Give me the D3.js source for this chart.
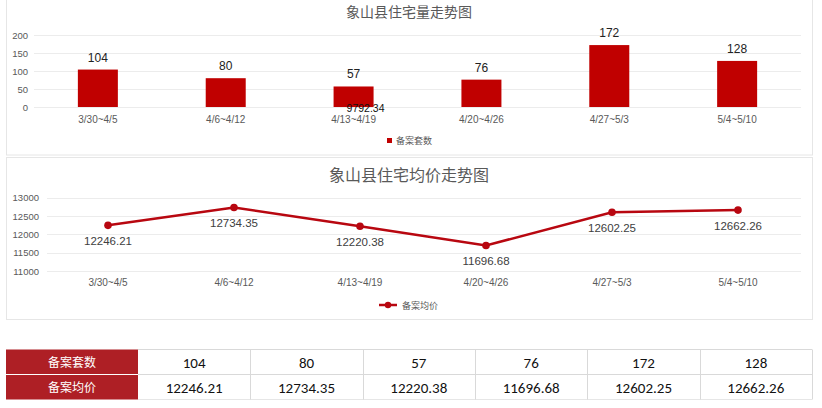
<!DOCTYPE html>
<html><head><meta charset="utf-8">
<script src="https://cdn.jsdelivr.net/npm/d3@7"></script>
<style>body{margin:0;background:#fff;}svg{display:block;font-family:"Microsoft YaHei","Noto Sans CJK SC",sans-serif;}</style>
</head><body><svg id="c" width="822" height="408"></svg>
<script>
const categories = ["3/30~4/5","4/6~4/12","4/13~4/19","4/20~4/26","4/27~5/3","5/4~5/10"];
const counts = [104, 80, 57, 76, 172, 128];
const prices = [12246.21, 12734.35, 12220.38, 11696.68, 12602.25, 12662.26];
const countTicks = [0, 50, 100, 150, 200];
const priceTicks = [11000, 11500, 12000, 12500, 13000];
const countName = "备案套数", priceName = "备案均价";
const title1 = "象山县住宅量走势图", title2 = "象山县住宅均价走势图";
const strayLabel = "9792.34";

const svg = d3.select("#c");
const red = "#C00000", lineRed = "#B80710", tableRed = "#AE1F25";
const fontLat = "Arial, 'Liberation Sans', sans-serif";

// panel borders
svg.append("rect").attr("x",6.5).attr("y",-1).attr("width",806).attr("height",156).attr("fill","none").attr("stroke","#e6e6e6");
svg.append("rect").attr("x",6.5).attr("y",157.5).attr("width",806).attr("height",162).attr("fill","none").attr("stroke","#e6e6e6");

// ---- Bar chart ----
const x1 = d3.scaleBand().domain(categories).range([34, 801]).paddingInner(0.687).paddingOuter(0.343);
const y1 = d3.scaleLinear().domain([0, 200]).range([107, 35]);
svg.append("text").attr("x",409).attr("y",17).attr("text-anchor","middle").attr("font-size",14).attr("fill","#595959").text(title1);
const g1 = svg.append("g");
g1.selectAll("line.g").data(countTicks).join("line").attr("x1",34).attr("x2",801)
  .attr("y1",d=>Math.round(y1(d))+0.5).attr("y2",d=>Math.round(y1(d))+0.5).attr("stroke","#ececec");
g1.selectAll("text.t").data(countTicks).join("text").attr("x",28).attr("y",d=>y1(d)+3.5).attr("text-anchor","end")
  .attr("font-size",9.5).attr("font-family",fontLat).attr("fill","#595959").text(d=>d);
const bw = 40;
g1.selectAll("rect.b").data(counts).join("rect")
  .attr("x",(d,i)=>x1(categories[i])+x1.bandwidth()/2-bw/2).attr("width",bw)
  .attr("y",d=>y1(d)).attr("height",d=>y1(0)-y1(d)).attr("fill",red);
g1.selectAll("text.v").data(counts).join("text")
  .attr("x",(d,i)=>x1(categories[i])+x1.bandwidth()/2).attr("y",d=>y1(d)-8)
  .attr("text-anchor","middle").attr("font-size",12).attr("font-family",fontLat).attr("fill","#222").text(d=>d);
g1.selectAll("text.c").data(categories).join("text")
  .attr("x",d=>x1(d)+x1.bandwidth()/2).attr("y",123).attr("text-anchor","middle")
  .attr("font-size",10).attr("font-family",fontLat).attr("fill","#595959").text(d=>d);
svg.append("text").attr("x",x1(categories[2])+x1.bandwidth()/2+12).attr("y",112).attr("text-anchor","middle")
  .attr("font-size",10.5).attr("font-family",fontLat).attr("fill","#111").text(strayLabel);
svg.append("rect").attr("x",387).attr("y",138).attr("width",5).attr("height",5).attr("fill",red);
svg.append("text").attr("x",396).attr("y",144).attr("font-size",9).attr("fill","#595959").text(countName);

// ---- Line chart ----
const x2 = d3.scalePoint().domain(categories).range([108, 738]);
const y2 = d3.scaleLinear().domain([11000, 13000]).range([271, 197.7]);
svg.append("text").attr("x",409).attr("y",181).attr("text-anchor","middle").attr("font-size",16).attr("fill","#595959").text(title2);
const g2 = svg.append("g");
g2.selectAll("line.g").data(priceTicks).join("line").attr("x1",47).attr("x2",801)
  .attr("y1",d=>Math.round(y2(d))+0.5).attr("y2",d=>Math.round(y2(d))+0.5).attr("stroke","#ececec");
g2.selectAll("text.t").data(priceTicks).join("text").attr("x",39).attr("y",d=>y2(d)+3.5).attr("text-anchor","end")
  .attr("font-size",9.5).attr("font-family",fontLat).attr("fill","#595959").text(d=>d);
const line = d3.line().x((d,i)=>x2(categories[i])).y(d=>y2(d));
g2.append("path").datum(prices).attr("d",line).attr("fill","none").attr("stroke",lineRed).attr("stroke-width",2.5);
g2.selectAll("circle").data(prices).join("circle").attr("cx",(d,i)=>x2(categories[i])).attr("cy",d=>y2(d)).attr("r",3.8).attr("fill",lineRed);
g2.selectAll("text.v").data(prices).join("text")
  .attr("x",(d,i)=>x2(categories[i])).attr("y",d=>y2(d)+20).attr("text-anchor","middle")
  .attr("font-size",11.5).attr("font-family",fontLat).attr("fill","#404040").text(d=>d.toFixed(2));
g2.selectAll("text.c").data(categories).join("text")
  .attr("x",d=>x2(d)).attr("y",286).attr("text-anchor","middle")
  .attr("font-size",10).attr("font-family",fontLat).attr("fill","#595959").text(d=>d);
svg.append("line").attr("x1",379).attr("x2",397).attr("y1",305).attr("y2",305).attr("stroke",lineRed).attr("stroke-width",2.5);
svg.append("circle").attr("cx",388).attr("cy",305).attr("r",3.2).attr("fill",lineRed);
svg.append("text").attr("x",402).attr("y",308.5).attr("font-size",9).attr("fill","#595959").text(priceName);

// ---- Table ----
const tx = d3.scaleBand().domain(categories).range([138, 812]);
const rows = [{name:countName, vals:counts.map(String)}, {name:priceName, vals:prices.map(d=>d.toFixed(2))}];
const rowY = [349.5, 374.5], rh = 25;
rows.forEach((r,ri)=>{
  svg.append("rect").attr("x",6).attr("y",rowY[ri]).attr("width",132).attr("height",rh).attr("fill",tableRed);
  svg.append("text").attr("x",72).attr("y",rowY[ri]+17).attr("text-anchor","middle").attr("font-size",12).attr("fill","#fff").text(r.name);
  svg.selectAll(null).data(r.vals).join("text")
    .attr("x",(d,i)=>tx(categories[i])+tx.bandwidth()/2).attr("y",rowY[ri]+18)
    .attr("text-anchor","middle").attr("font-size",15).attr("font-family","Calibri, Carlito, 'Liberation Sans', sans-serif").attr("fill","#111").text(d=>d);
});
svg.append("line").attr("x1",6).attr("x2",138).attr("y1",374.5).attr("y2",374.5).attr("stroke","#fff").attr("stroke-width",1);
svg.append("line").attr("x1",138).attr("x2",812).attr("y1",349.5).attr("y2",349.5).attr("stroke","#d9d9d9");
svg.append("line").attr("x1",138).attr("x2",812).attr("y1",374.5).attr("y2",374.5).attr("stroke","#d9d9d9");
svg.append("line").attr("x1",138).attr("x2",812).attr("y1",399.5).attr("y2",399.5).attr("stroke","#e6e6e6");
svg.selectAll("line.cd").data(categories).join("line")
  .attr("x1",d=>Math.round(tx(d)+tx.bandwidth())+0.5).attr("x2",d=>Math.round(tx(d)+tx.bandwidth())+0.5)
  .attr("y1",349.5).attr("y2",399.5).attr("stroke","#d9d9d9");
</script></body></html>
